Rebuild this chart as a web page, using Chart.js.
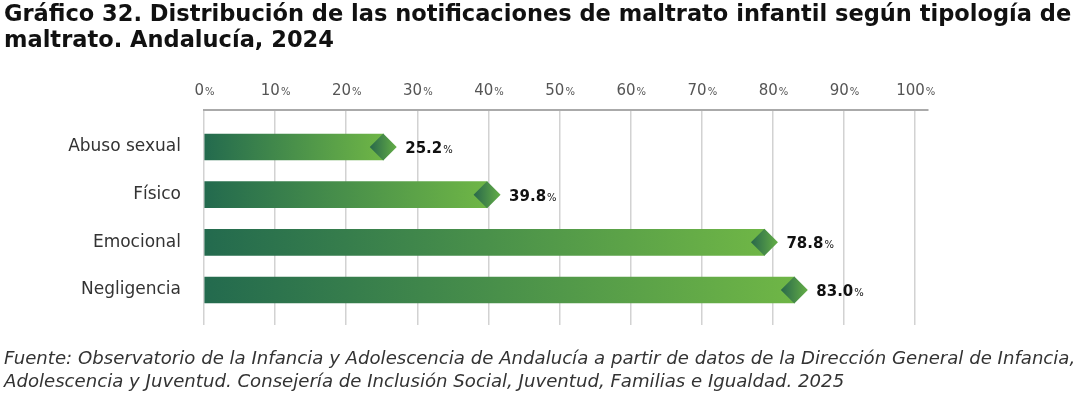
<!DOCTYPE html>
<html>
<head>
<meta charset="utf-8">
<script src="https://cdn.jsdelivr.net/npm/chart.js@4.4.0/dist/chart.umd.min.js"></script>
<style>
  html, body { margin: 0; padding: 0; background: #fff; width: 1080px; height: 394px; overflow: hidden; }
  #wrap { position: relative; width: 1080px; height: 394px; }
  #chart { position: absolute; left: 0; top: 0; }
  .t { position: absolute; left: 4px; white-space: nowrap; font-family: "DejaVu Sans"; font-weight: bold; color: #111; line-height: 1; }
  .f { position: absolute; left: 4px; white-space: nowrap; font-family: "DejaVu Sans"; font-style: italic; color: #333; line-height: 1; }
</style>
</head>
<body>
<div id="wrap">
  <canvas id="chart" width="1080" height="394"></canvas>
  <div class="t" id="t1">Gráfico 32. Distribución de las notificaciones de maltrato infantil según tipología de</div>
  <div class="t" id="t2">maltrato. Andalucía, 2024</div>
  <div class="f" id="f1">Fuente: Observatorio de la Infancia y Adolescencia de Andalucía a partir de datos de la Dirección General de Infancia,</div>
  <div class="f" id="f2">Adolescencia y Juventud. Consejería de Inclusión Social, Juventud, Familias e Igualdad. 2025</div>
</div>
<script>
const categories = ['Abuso sexual', 'Físico', 'Emocional', 'Negligencia'];
const percentages = [25.2, 39.8, 78.8, 83.0];
const xTicks = [0, 10, 20, 30, 40, 50, 60, 70, 80, 90, 100];

// fit title / footer widths to the reference
function fitLine(id, target, baseline) {
  const el = document.getElementById(id);
  el.style.fontSize = '20px';
  const size = 20 * target / el.offsetWidth;
  el.style.fontSize = size + 'px';
  el.style.top = (baseline - 0.846 * size) + 'px';
  return size;
}
const ts = fitLine('t1', 1068, 21);
const t2 = document.getElementById('t2');
t2.style.fontSize = ts + 'px';
t2.style.top = (47 - 0.846 * ts) + 'px';
const fs = fitLine('f1', 1072, 364);
const f2 = document.getElementById('f2');
f2.style.fontSize = fs + 'px';
f2.style.top = (387 - 0.846 * fs) + 'px';

const points = categories.map((c, i) => ({ x: percentages[i], y: i }));

function barFill(ctx) {
  const chart = ctx.chart;
  if (!chart.chartArea || ctx.type !== 'data') return '#4c9a48';
  const xs = chart.scales.x;
  const x0 = xs.getPixelForValue(0);
  const x1 = xs.getPixelForValue(ctx.raw.x);
  const g = chart.ctx.createLinearGradient(x0, 0, x1, 0);
  g.addColorStop(0, '#236a4e');
  g.addColorStop(1, '#6fb646');
  return g;
}

function diamondFill(ctx) {
  const chart = ctx.chart;
  if (!chart.chartArea || ctx.type !== 'data') return '#4c9a48';
  const px = chart.scales.x.getPixelForValue(ctx.raw.x);
  const g = chart.ctx.createLinearGradient(px - 13, 0, px + 13, 0);
  g.addColorStop(0, '#2a694b');
  g.addColorStop(1, '#63ad46');
  return g;
}

const tickLabels = {
  id: 'tickLabels',
  afterDraw(chart) {
    const c = chart.ctx;
    const xs = chart.scales.x;
    c.save();
    c.fillStyle = '#555';
    c.textBaseline = 'alphabetic';
    xTicks.forEach(v => {
      const num = String(v);
      c.font = '15px "DejaVu Sans"';
      const w1 = c.measureText(num).width;
      c.font = '10px "DejaVu Sans"';
      const w2 = c.measureText('%').width;
      const left = xs.getPixelForValue(v) - (w1 + w2) / 2;
      c.font = '15px "DejaVu Sans"';
      c.fillText(num, left, 95);
      c.font = '10px "DejaVu Sans"';
      c.fillText('%', left + w1 + 1, 95);
    });
    c.restore();
  }
};

const valueLabels = {
  id: 'valueLabels',
  afterDatasetsDraw(chart) {
    const c = chart.ctx;
    const meta = chart.getDatasetMeta(0);
    c.save();
    c.fillStyle = '#111';
    c.textBaseline = 'alphabetic';
    meta.data.forEach((bar, i) => {
      const txt = percentages[i].toFixed(1);
      const x = bar.x + 22;
      const y = bar.y + 6;
      c.font = 'bold 15px "DejaVu Sans"';
      c.fillText(txt, x, y);
      const w = c.measureText(txt).width;
      c.font = '10px "DejaVu Sans"';
      c.fillText('%', x + w + 1, y);
    });
    c.restore();
  }
};

new Chart(document.getElementById('chart'), {
  type: 'bar',
  data: {
    datasets: [
      {
        data: points,
        order: 1,
        backgroundColor: barFill,
        borderWidth: 0,
        barThickness: 26
      },
      {
        type: 'line',
        data: points,
        order: 0,
        showLine: false,
        pointStyle: 'rectRot',
        pointRadius: 13.5,
        pointHoverRadius: 13.5,
        pointBorderWidth: 0,
        pointBackgroundColor: diamondFill,
        borderColor: 'rgba(0,0,0,0)'
      }
    ]
  },
  options: {
    indexAxis: 'y',
    responsive: false,
    animation: false,
    devicePixelRatio: 1,
    layout: { padding: { left: 0, top: 0, right: 152, bottom: 69 } },
    plugins: { legend: { display: false }, tooltip: { enabled: false } },
    scales: {
      x: {
        type: 'linear',
        position: 'top',
        min: 0,
        max: 101.8,
        bounds: 'data',
        afterBuildTicks: s => { s.ticks = xTicks.map(v => ({ value: v })); },
        afterFit: s => { s.height = 110; },
        ticks: { display: false },
        grid: { color: '#d2d2d2', lineWidth: 1.5, drawTicks: false },
        border: { display: true, color: '#aaa', width: 2 }
      },
      y: {
        type: 'linear',
        reverse: true,
        offset: false,
        min: -0.776,
        max: 3.734,
        bounds: 'data',
        afterBuildTicks: s => { s.ticks = categories.map((c, i) => ({ value: i })); },
        afterFit: s => { s.width = 204; },
        ticks: {
          callback: v => categories[v],
          color: '#333',
          padding: 23,
          font: { family: '"DejaVu Sans"', size: 17 }
        },
        grid: { display: false, drawTicks: false, offset: false },
        border: { display: false }
      }
    }
  },
  plugins: [tickLabels, valueLabels]
});
</script>
</body>
</html>
